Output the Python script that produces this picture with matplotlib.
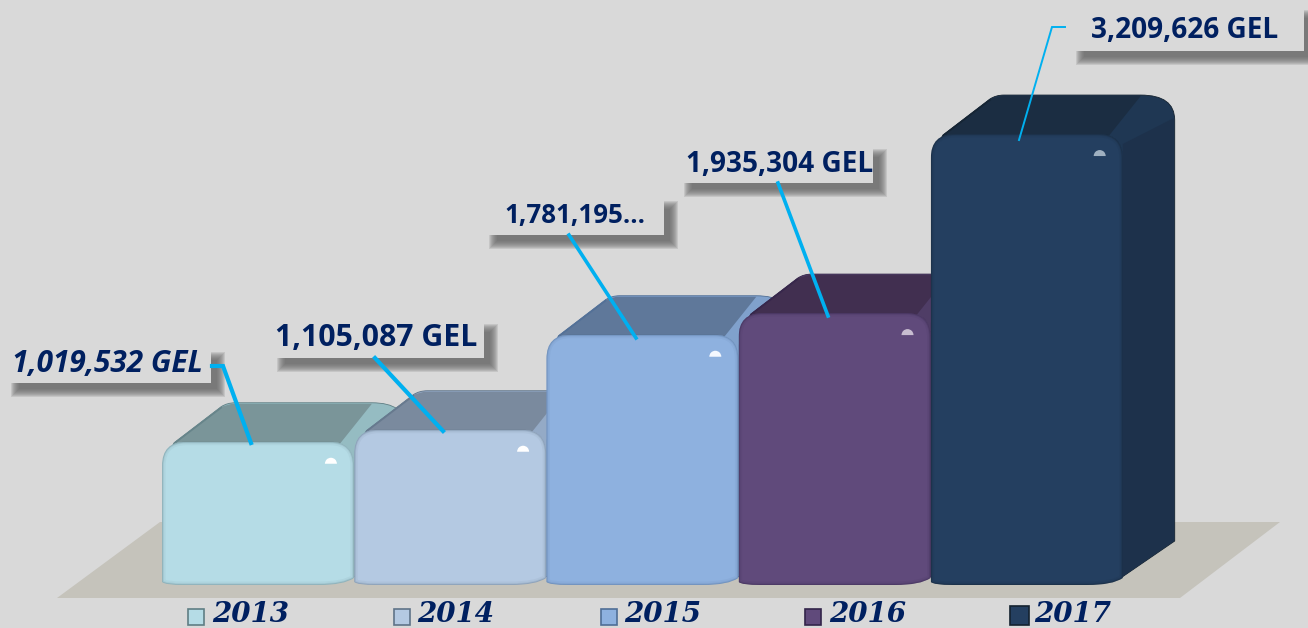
import matplotlib
matplotlib.use("Agg")
import matplotlib.pyplot as plt
from matplotlib.patches import PathPatch, Polygon, Rectangle, Wedge
from matplotlib.path import Path
from matplotlib.transforms import Affine2D

# data
years = ["2013", "2014", "2015", "2016", "2017"]
values = [1019532, 1105087, 1781195, 1935304, 3209626]
labels = ["1,019,532 GEL", "1,105,087 GEL", "1,781,195...", "1,935,304 GEL", "3,209,626 GEL"]

# colours
front_cols = ["#B5DCE6", "#B4C9E2", "#8EB1DF", "#604A7B", "#243F60"]
top_cols = ["#7A9599", "#7A8A9E", "#5F789A", "#412F50", "#1B2D42"]
wedge_cols = ["#95BCC2", "#94AAC6", "#80A1CC", "#4F3D66", "#1F3753"]
side_cols = ["#8FB5BB", "#8DA3C0", "#7898C4", "#4C3A62", "#1D314B"]
edge_cols = ["#5F7E84", "#5F7388", "#4F6E96", "#33244A", "#14222F"]
spot_cols = ["#FFFFFF", "#FFFFFF", "#F4F8FF", "#C8BDD0", "#9FB0C0"]
navy = "#002060"
cyan = "#00B0F0"
bg = "#D9D9D9"

W, H = 1308, 628
fig = plt.figure(figsize=(W / 100, H / 100), dpi=100, facecolor=bg)
ax = fig.add_axes([0, 0, 1, 1])
ax.set_facecolor(bg)
ax.axis("off")

# scale set so the axes map onto the picture: bars sit on y=585px
step = 192.2
y_scale = 1.405e-4
ax.set_xlim(-258 / step, (W - 258) / step)
ax.set_ylim(-(H - 585) / y_scale, 585 / y_scale)

# image pixel coords, y going down
px = Affine2D().scale(1, -1).translate(0, H)


def to_px(x, y):
    a, b = ax.transData.transform((x, y))
    return a, H - b


# floor
ax.add_patch(Polygon([(57, 598), (1180, 598), (1280, 522), (160, 522)], closed=True,
                     fc="#C5C3BB", ec="none", transform=px, zorder=1))

dx, dy = 52, 39
r = 24
xs = list(range(len(years)))
bars = ax.bar(xs, values, width=0.998, color=front_cols, linewidth=0, zorder=5)

for i, b in enumerate(bars):
    z = 10 + i * 10
    l, t = to_px(b.get_x(), b.get_height())
    rt, base = to_px(b.get_x() + b.get_width(), 0)

    # body behind the front face
    verts = [(l + 2, t + r), (l + 12, t + 1), (l + 59, t - 35),
             (l + 65, t - dy), (l + 73, t - dy),
             (rt + 18, t - dy),
             (rt + dx, t - dy), (rt + dx, t - 14),
             (rt + dx, base - dy - 5), (rt - 2, base - 7), (l + 2, t + r)]
    codes = [Path.MOVETO, Path.LINETO, Path.LINETO,
             Path.CURVE3, Path.CURVE3,
             Path.LINETO,
             Path.CURVE3, Path.CURVE3,
             Path.LINETO, Path.LINETO, Path.CLOSEPOLY]
    ax.add_patch(PathPatch(Path(verts, codes), fc=wedge_cols[i], ec=edge_cols[i], lw=0.6,
                           transform=px, zorder=z))

    # right side, a bit darker than the corner
    ax.add_patch(Polygon([(rt, t + 10), (rt + dx - 1, t - 16), (rt + dx - 1, base - dy - 5), (rt - 2, base - 7)],
                         closed=True, fc=side_cols[i], ec="none", transform=px, zorder=z + 1))

    # top face
    ax.add_patch(Polygon([(l + 12, t + 1), (l + 59, t - 35), (l + 70, t - dy + 1),
                          (rt + 18, t - dy + 1), (rt + 14, t - 33), (rt - 14, t + 2)],
                         closed=True, fc=top_cols[i], ec="none", transform=px, zorder=z + 2))
    ax.plot([l + 3, l + 13, l + 59], [t + 14, t + 1, t - 34], color=edge_cols[i], lw=1.2, alpha=0.7,
            transform=px, zorder=z + 2)

    # front face is the bar itself, clipped to a rounded outline
    fv = [(l, base - 3), (l, t + r), (l, t), (l + r, t), (rt - r, t), (rt, t), (rt, t + r),
          (rt, base - 7), (rt - 10, base), (rt - 36, base), (l + 22, base), (l + 3, base), (l, base - 3)]
    fc = [Path.MOVETO, Path.LINETO, Path.CURVE3, Path.CURVE3, Path.LINETO, Path.CURVE3, Path.CURVE3,
          Path.LINETO, Path.CURVE3, Path.CURVE3, Path.LINETO, Path.CURVE3, Path.CURVE3]
    front = Path(fv, fc)
    b.set_zorder(z + 3)
    b.set_clip_path(front, transform=px)

    # soft inner bevel, clipped to the same outline
    for lw, al in [(5, 0.08), (2.5, 0.14), (1.2, 0.30)]:
        edge = PathPatch(front, fc="none", ec=edge_cols[i], lw=lw, alpha=al, transform=px, zorder=z + 4)
        ax.add_patch(edge)
        edge.set_clip_path(front, transform=px)

    # little glare near the corner
    ax.add_patch(Wedge((rt - 23, t + 22), 6, 180, 360, fc=spot_cols[i], ec="none",
                       transform=px, zorder=z + 5))

# value boxes: x0, y0, x1, y1, text x, text y, font size
boxes = [(7, 348, 211, 383, 12, 364, 21.4),
         (273, 320, 484, 358, 275, 338, 21.8),
         (485, 197, 664, 235, 504, 215, 18.6),
         (680, 145, 873, 183, 686, 164, 20.2),
         (1072, 6, 1304, 51, 1091, 30, 20.2)]
leaders = [[(212, 366), (223, 366), (251, 443)],
           [(375, 358), (443, 431)],
           [(569, 235), (636, 338)],
           [(778, 183), (828, 316)],
           [(1065, 27), (1052, 27), (1019, 140)]]
lead_w = [3.0, 3.0, 2.6, 2.6, 1.4]

for i, lab in enumerate(labels):
    x0, y0, x1, y1, tx, ty, fs = boxes[i]
    # soft shadow
    for k in range(5, -4, -1):
        ax.add_patch(Rectangle((x0 + 9 - k, y0 + 9 - k), x1 - x0 + 2 * k, y1 - y0 + 2 * k,
                               fc="#666666", ec="none", alpha=0.17, transform=px, zorder=100))
    ax.add_patch(Rectangle((x0, y0), x1 - x0, y1 - y0, fc=bg, ec="none", transform=px, zorder=101))
    xs_l = [p[0] for p in leaders[i]]
    ys_l = [p[1] for p in leaders[i]]
    ax.plot(xs_l, ys_l, color=cyan, lw=lead_w[i], solid_joinstyle="miter", transform=px, zorder=102)
    ax.text(tx, ty, lab, transform=px, color=navy, fontsize=fs, fontweight="bold",
            family="Open Sans", style="italic" if i == 0 else "normal",
            ha="left", va="center", zorder=103)

# legend
leg_sq = [(188, 16), (394, 16), (601, 16), (805, 16), (1010, 19)]
leg_tx = [212, 417, 624, 829, 1034]
for i, y in enumerate(years):
    sx, size = leg_sq[i]
    ax.add_patch(Rectangle((sx, 625 - size), size, size, fc=front_cols[i], ec=edge_cols[i], lw=1.2,
                           transform=px, zorder=50))
    ax.text(leg_tx[i], 614, y, transform=px, color=navy, fontsize=20, fontweight="bold",
            style="italic", family="DejaVu Serif", ha="left", va="center", zorder=50)

fig.savefig("out.png", dpi=100, facecolor=bg)
